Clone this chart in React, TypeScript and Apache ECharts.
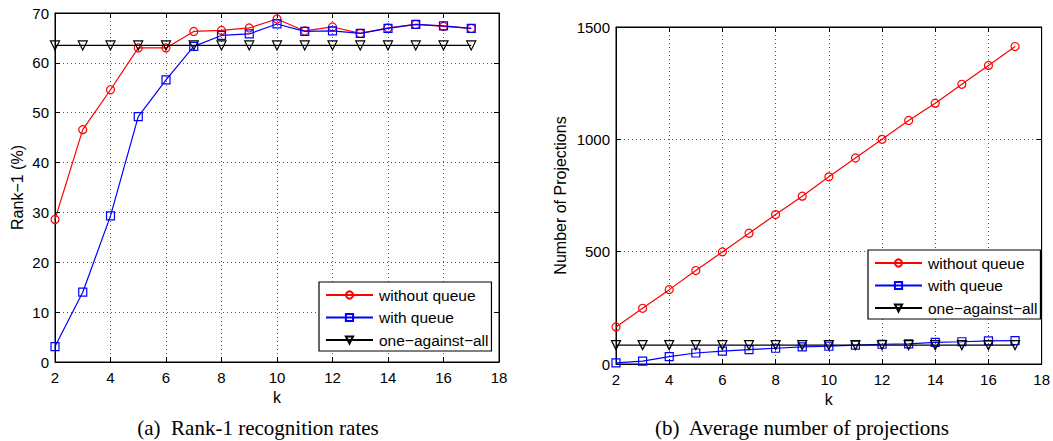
import React, { useEffect, useRef } from "react";
import * as echarts from "echarts";

const K = [2, 3, 4, 5, 6, 7, 8, 9, 10, 11, 12, 13, 14, 15, 16, 17];
const X_TICKS = [2, 4, 6, 8, 10, 12, 14, 16, 18];
const SERIES_NAMES = ["without queue", "with queue", "one\u2212against\u2212all"];

const rankWithout = [28.6, 46.6, 54.6, 63.0, 63.0, 66.3, 66.5, 67.0, 68.8, 66.4, 67.2, 65.9, 67.0, 67.7, 67.3, 66.9];
const rankWith = [3.1, 14.0, 29.3, 49.2, 56.6, 63.3, 65.5, 65.8, 67.8, 66.3, 66.4, 65.9, 66.9, 67.7, 67.4, 66.9];
const rankOAA = [63.5, 63.5, 63.5, 63.5, 63.5, 63.5, 63.5, 63.5, 63.5, 63.5, 63.5, 63.5, 63.5, 63.5, 63.5, 63.5];

const projWithout = [165, 248, 331, 416, 499, 582, 665, 747, 833, 917, 1000, 1084, 1161, 1245, 1329, 1413];
const projWith = [5, 13, 33, 49, 57, 64, 70, 76, 79, 84, 88, 90, 96, 99, 103, 104];
const projOAA = [84, 84, 84, 84, 84, 84, 84, 84, 84, 84, 84, 84, 84, 84, 84, 84];

const CAPTION_A = "(a)  Rank-1 recognition rates";
const CAPTION_B = "(b)  Average number of projections";

const FONT = "Liberation Sans";
const SERIF = "Liberation Serif";
const TICK_FS = 15;
const NAME_FS = 16;

const pair = (vals: number[]) => K.map((k, i) => [k, vals[i]]);

const styles = [
  { color: "#ff0000", symbol: "circle", size: 8, rotate: 0 },
  { color: "#0000ff", symbol: "rect", size: 8, rotate: 0 },
  { color: "#000000", symbol: "triangle", size: 9, rotate: 180 },
];

function mkSeries(idx: number, vals: number[], gi: number) {
  const s = styles[idx];
  return {
    type: "line",
    name: SERIES_NAMES[idx],
    xAxisIndex: gi * 2,
    yAxisIndex: gi * 2,
    data: pair(vals),
    symbol: s.symbol,
    symbolSize: s.size,
    symbolRotate: s.rotate,
    showSymbol: true,
    lineStyle: { color: s.color, width: 1.2 },
    itemStyle: { color: "rgba(255,255,255,0)", borderColor: s.color, borderWidth: 1.2 },
    z: 2 + idx,
  };
}

function xAxes(gi: number) {
  const base = {
    type: "value",
    gridIndex: gi,
    min: 2,
    max: 18,
    interval: 2,
    axisLine: { show: true, onZero: false, lineStyle: { color: "#000", width: 1 } },
    axisTick: { show: true, inside: true, length: 5, lineStyle: { color: "#000" } },
  };
  return [
    {
      ...base,
      position: "bottom",
      name: "k",
      nameLocation: "middle",
      nameGap: 25,
      nameTextStyle: { fontFamily: FONT, fontSize: NAME_FS, color: "#000" },
      axisLabel: {
        show: true,
        fontFamily: FONT,
        fontSize: TICK_FS,
        color: "#000",
        margin: 8,
        formatter: (v: number) => (X_TICKS.indexOf(v) >= 0 ? String(v) : ""),
      },
      splitLine: { show: true, lineStyle: { color: "#555", width: 1, type: [1, 3] } },
    },
    { ...base, position: "top", axisLabel: { show: false }, splitLine: { show: false } },
  ];
}

function yAxes(gi: number, max: number, interval: number, name: string, nameGap: number) {
  const base = {
    type: "value",
    gridIndex: gi,
    min: 0,
    max,
    interval,
    axisLine: { show: true, onZero: false, lineStyle: { color: "#000", width: 1 } },
    axisTick: { show: true, inside: true, length: 5, lineStyle: { color: "#000" } },
  };
  return [
    {
      ...base,
      position: "left",
      name,
      nameLocation: "middle",
      nameGap,
      nameRotate: 90,
      nameTextStyle: { fontFamily: FONT, fontSize: NAME_FS, color: "#000" },
      axisLabel: {
        show: true,
        fontFamily: FONT,
        fontSize: TICK_FS,
        color: "#000",
        margin: 6,
        formatter: (v: number) => String(v),
      },
      splitLine: { show: true, lineStyle: { color: "#555", width: 1, type: [1, 3] } },
    },
    { ...base, position: "right", axisLabel: { show: false }, splitLine: { show: false } },
  ];
}

function legend(left: number, top: number) {
  return {
    show: true,
    orient: "vertical",
    left,
    top,
    data: SERIES_NAMES,
    backgroundColor: "#fff",
    borderColor: "#000",
    borderWidth: 1.2,
    borderRadius: 0,
    padding: [5, 3, 3, 6],
    itemWidth: 47,
    itemHeight: 9,
    itemGap: 6.5,
    selectedMode: false,
    textStyle: { fontFamily: FONT, fontSize: 15.5, color: "#000", padding: [0, 0, 0, 1] },
  };
}

export default function App() {
  const ref = useRef<HTMLDivElement>(null);
  useEffect(() => {
    if (!ref.current) return;
    const chart = echarts.init(ref.current, undefined, { renderer: "svg" });
    const xa0 = xAxes(0);
    const xa1 = xAxes(1);
    const ya0 = yAxes(0, 70, 10, "Rank\u22121 (%)", 30);
    const ya1 = yAxes(1, 1500, 500, "Number of Projections", 48);
    const option: any = {
      animation: false,
      backgroundColor: "#fff",
      grid: [
        { left: 55, right: 554, top: 13, bottom: 79, show: true, borderColor: "#000", borderWidth: 1, backgroundColor: "#fff" },
        { left: 616, right: 11, top: 27, bottom: 77, show: true, borderColor: "#000", borderWidth: 1, backgroundColor: "#fff" },
      ],
      xAxis: [xa0[0], xa0[1], xa1[0], xa1[1]],
      yAxis: [ya0[0], ya0[1], ya1[0], ya1[1]],
      legend: [legend(319, 282), legend(868, 250)],
      series: [
        mkSeries(0, rankWithout, 0),
        mkSeries(1, rankWith, 0),
        mkSeries(2, rankOAA, 0),
        mkSeries(0, projWithout, 1),
        mkSeries(1, projWith, 1),
        mkSeries(2, projOAA, 1),
      ],
      graphic: [
        {
          type: "text",
          x: 258,
          y: 428,
          style: {
            text: CAPTION_A,
            font: `21px "${SERIF}"`,
            fill: "#000",
            textAlign: "center",
            textVerticalAlign: "middle",
          },
        },
        {
          type: "text",
          x: 802,
          y: 428,
          style: {
            text: CAPTION_B,
            font: `21px "${SERIF}"`,
            fill: "#000",
            textAlign: "center",
            textVerticalAlign: "middle",
          },
        },
      ],
    };
    chart.setOption(option);
    return () => chart.dispose();
  }, []);
  return (
    <div
      ref={ref}
      style={{ position: "absolute", left: 0, top: 0, width: 1053, height: 441 }}
    />
  );
}
